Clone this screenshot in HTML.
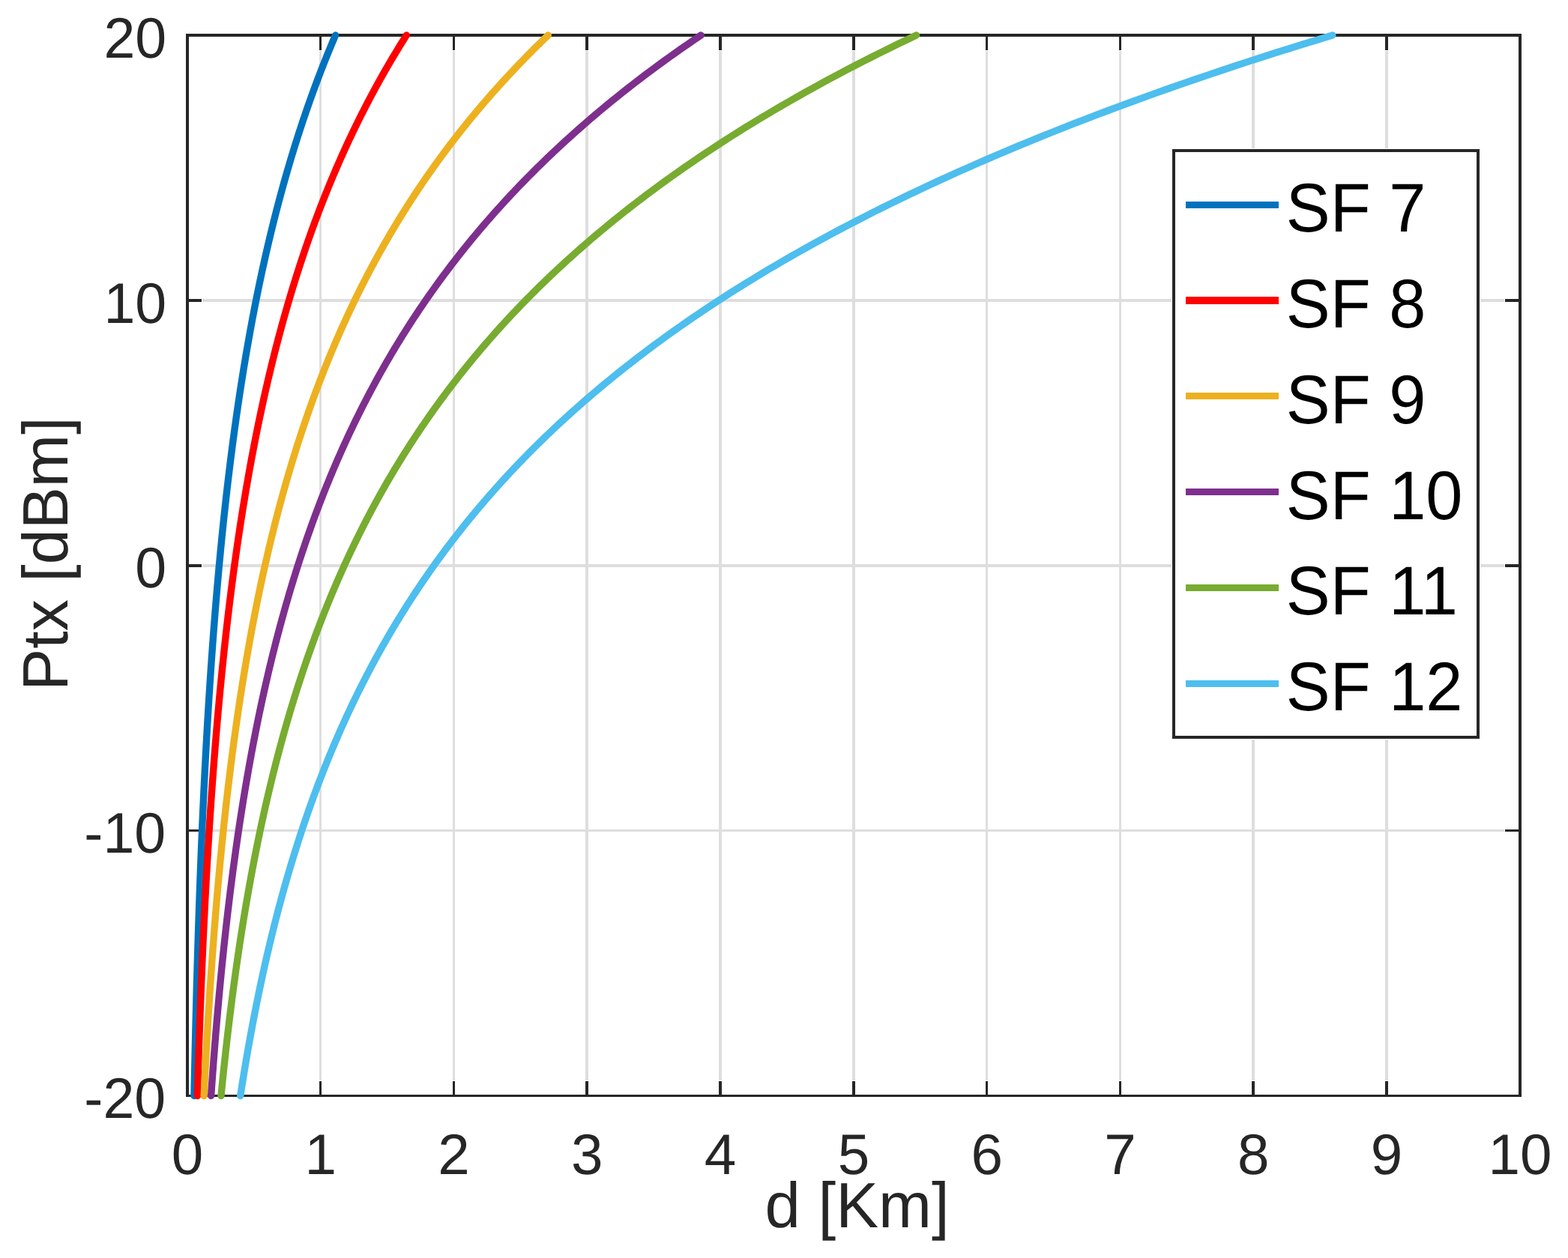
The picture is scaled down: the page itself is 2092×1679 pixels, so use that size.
<!DOCTYPE html>
<html lang="en"><head><meta charset="utf-8"><title>Ptx vs d</title>
<style>html,body{margin:0;padding:0;background:#fff;}body{width:2092px;height:1679px;overflow:hidden;}svg{display:block;}text{text-rendering:geometricPrecision;font-family:"Liberation Sans",sans-serif;}</style></head><body>
<svg width="2092" height="1679" viewBox="0 0 2092 1679">
<rect x="0" y="0" width="2092" height="1679" fill="#ffffff"/>
<g shape-rendering="crispEdges">
<rect x="426" y="68" width="3" height="1374" fill="#dedede"/>
<rect x="604" y="68" width="3" height="1374" fill="#dedede"/>
<rect x="781" y="68" width="4" height="1374" fill="#dedede"/>
<rect x="959" y="68" width="4" height="1374" fill="#dedede"/>
<rect x="1137" y="68" width="4" height="1374" fill="#dedede"/>
<rect x="1315" y="68" width="3" height="1374" fill="#dedede"/>
<rect x="1493" y="68" width="3" height="1374" fill="#dedede"/>
<rect x="1670" y="68" width="4" height="1374" fill="#dedede"/>
<rect x="1848" y="68" width="4" height="1374" fill="#dedede"/>
<rect x="270" y="399" width="1737" height="4" fill="#dedede"/>
<rect x="270" y="753" width="1737" height="4" fill="#dedede"/>
<rect x="270" y="1107" width="1737" height="3" fill="#dedede"/>
</g>
<g shape-rendering="crispEdges">
<rect x="426" y="1443" width="3" height="18" fill="#262626"/>
<rect x="426" y="49" width="3" height="18" fill="#262626"/>
<rect x="604" y="1443" width="3" height="18" fill="#262626"/>
<rect x="604" y="49" width="3" height="18" fill="#262626"/>
<rect x="781" y="1443" width="4" height="18" fill="#262626"/>
<rect x="781" y="49" width="4" height="18" fill="#262626"/>
<rect x="959" y="1443" width="4" height="18" fill="#262626"/>
<rect x="959" y="49" width="4" height="18" fill="#262626"/>
<rect x="1137" y="1443" width="4" height="18" fill="#262626"/>
<rect x="1137" y="49" width="4" height="18" fill="#262626"/>
<rect x="1315" y="1443" width="3" height="18" fill="#262626"/>
<rect x="1315" y="49" width="3" height="18" fill="#262626"/>
<rect x="1493" y="1443" width="3" height="18" fill="#262626"/>
<rect x="1493" y="49" width="3" height="18" fill="#262626"/>
<rect x="1670" y="1443" width="4" height="18" fill="#262626"/>
<rect x="1670" y="49" width="4" height="18" fill="#262626"/>
<rect x="1848" y="1443" width="4" height="18" fill="#262626"/>
<rect x="1848" y="49" width="4" height="18" fill="#262626"/>
<rect x="252" y="399" width="17" height="4" fill="#262626"/>
<rect x="2008" y="399" width="18" height="4" fill="#262626"/>
<rect x="252" y="753" width="17" height="4" fill="#262626"/>
<rect x="2008" y="753" width="18" height="4" fill="#262626"/>
<rect x="252" y="1107" width="17" height="3" fill="#262626"/>
<rect x="2008" y="1107" width="18" height="3" fill="#262626"/>
<rect x="248" y="45" width="1782" height="4" fill="#262626"/>
<rect x="248" y="1461" width="1782" height="3" fill="#262626"/>
<rect x="248" y="45" width="4" height="1419" fill="#262626"/>
<rect x="2026" y="45" width="4" height="1419" fill="#262626"/>
</g>
<path d="M258.98 1462.50L259.10 1456.60L259.22 1450.70L259.34 1444.81L259.46 1438.91L259.59 1433.01L259.71 1427.11L259.84 1421.21L259.97 1415.32L260.10 1409.42L260.23 1403.52L260.37 1397.62L260.50 1391.72L260.64 1385.83L260.78 1379.93L260.92 1374.03L261.07 1368.13L261.21 1362.24L261.36 1356.34L261.51 1350.44L261.66 1344.54L261.81 1338.64L261.97 1332.75L262.12 1326.85L262.28 1320.95L262.44 1315.05L262.60 1309.15L262.77 1303.26L262.94 1297.36L263.10 1291.46L263.28 1285.56L263.45 1279.66L263.63 1273.77L263.80 1267.87L263.98 1261.97L264.17 1256.07L264.35 1250.17L264.54 1244.28L264.73 1238.38L264.92 1232.48L265.12 1226.58L265.31 1220.69L265.51 1214.79L265.71 1208.89L265.92 1202.99L266.13 1197.09L266.34 1191.20L266.55 1185.30L266.77 1179.40L266.98 1173.50L267.21 1167.60L267.43 1161.71L267.66 1155.81L267.89 1149.91L268.12 1144.01L268.35 1138.11L268.59 1132.22L268.84 1126.32L269.08 1120.42L269.33 1114.52L269.58 1108.62L269.83 1102.73L270.09 1096.83L270.35 1090.93L270.62 1085.03L270.89 1079.14L271.16 1073.24L271.43 1067.34L271.71 1061.44L271.99 1055.54L272.28 1049.65L272.57 1043.75L272.86 1037.85L273.16 1031.95L273.46 1026.05L273.76 1020.16L274.07 1014.26L274.39 1008.36L274.70 1002.46L275.02 996.56L275.35 990.67L275.68 984.77L276.01 978.87L276.35 972.97L276.69 967.08L277.03 961.18L277.39 955.28L277.74 949.38L278.10 943.48L278.46 937.59L278.83 931.69L279.21 925.79L279.59 919.89L279.97 913.99L280.36 908.10L280.75 902.20L281.15 896.30L281.55 890.40L281.96 884.50L282.38 878.61L282.80 872.71L283.22 866.81L283.65 860.91L284.09 855.01L284.53 849.12L284.97 843.22L285.43 837.32L285.89 831.42L286.35 825.52L286.82 819.63L287.30 813.73L287.78 807.83L288.27 801.93L288.77 796.04L289.27 790.14L289.77 784.24L290.29 778.34L290.81 772.44L291.34 766.55L291.87 760.65L292.42 754.75L292.96 748.85L293.52 742.95L294.08 737.06L294.65 731.16L295.23 725.26L295.81 719.36L296.41 713.46L297.01 707.57L297.62 701.67L298.23 695.77L298.85 689.87L299.49 683.98L300.13 678.08L300.77 672.18L301.43 666.28L302.09 660.38L302.77 654.49L303.45 648.59L304.14 642.69L304.84 636.79L305.55 630.89L306.27 625.00L306.99 619.10L307.73 613.20L308.48 607.30L309.23 601.40L310.00 595.51L310.77 589.61L311.56 583.71L312.35 577.81L313.16 571.91L313.97 566.02L314.80 560.12L315.63 554.22L316.48 548.32L317.34 542.42L318.21 536.53L319.09 530.63L319.98 524.73L320.89 518.83L321.80 512.94L322.73 507.04L323.67 501.14L324.62 495.24L325.58 489.34L326.56 483.45L327.55 477.55L328.55 471.65L329.56 465.75L330.59 459.85L331.63 453.96L332.68 448.06L333.75 442.16L334.83 436.26L335.92 430.36L337.03 424.47L338.16 418.57L339.29 412.67L340.44 406.77L341.61 400.88L342.79 394.98L343.99 389.08L345.20 383.18L346.43 377.28L347.68 371.39L348.94 365.49L350.21 359.59L351.51 353.69L352.81 347.79L354.14 341.90L355.48 336.00L356.84 330.10L358.22 324.20L359.62 318.30L361.03 312.41L362.46 306.51L363.92 300.61L365.38 294.71L366.87 288.81L368.38 282.92L369.91 277.02L371.45 271.12L373.02 265.22L374.60 259.32L376.21 253.43L377.84 247.53L379.49 241.63L381.16 235.73L382.85 229.84L384.56 223.94L386.30 218.04L388.05 212.14L389.83 206.24L391.64 200.35L393.46 194.45L395.31 188.55L397.19 182.65L399.08 176.75L401.00 170.86L402.95 164.96L404.92 159.06L406.92 153.16L408.94 147.26L410.99 141.37L413.07 135.47L415.17 129.57L417.30 123.67L419.45 117.78L421.64 111.88L423.85 105.98L426.09 100.08L428.36 94.18L430.66 88.29L432.99 82.39L435.35 76.49L437.74 70.59L440.16 64.69L442.61 58.80L445.09 52.90L447.60 47.00" stroke="#0072BD" stroke-width="9.40" fill="none" stroke-linecap="round" stroke-linejoin="round"/>
<path d="M263.38 1462.50L263.55 1456.60L263.73 1450.70L263.91 1444.81L264.09 1438.91L264.27 1433.01L264.46 1427.11L264.65 1421.21L264.84 1415.32L265.03 1409.42L265.23 1403.52L265.43 1397.62L265.63 1391.72L265.83 1385.83L266.04 1379.93L266.25 1374.03L266.46 1368.13L266.67 1362.24L266.89 1356.34L267.11 1350.44L267.33 1344.54L267.56 1338.64L267.79 1332.75L268.02 1326.85L268.25 1320.95L268.49 1315.05L268.73 1309.15L268.98 1303.26L269.22 1297.36L269.47 1291.46L269.73 1285.56L269.98 1279.66L270.24 1273.77L270.51 1267.87L270.77 1261.97L271.04 1256.07L271.32 1250.17L271.59 1244.28L271.87 1238.38L272.16 1232.48L272.45 1226.58L272.74 1220.69L273.03 1214.79L273.33 1208.89L273.63 1202.99L273.94 1197.09L274.25 1191.20L274.57 1185.30L274.89 1179.40L275.21 1173.50L275.54 1167.60L275.87 1161.71L276.20 1155.81L276.54 1149.91L276.89 1144.01L277.24 1138.11L277.59 1132.22L277.95 1126.32L278.31 1120.42L278.68 1114.52L279.05 1108.62L279.42 1102.73L279.81 1096.83L280.19 1090.93L280.58 1085.03L280.98 1079.14L281.38 1073.24L281.79 1067.34L282.20 1061.44L282.62 1055.54L283.04 1049.65L283.47 1043.75L283.90 1037.85L284.34 1031.95L284.78 1026.05L285.23 1020.16L285.69 1014.26L286.15 1008.36L286.62 1002.46L287.10 996.56L287.58 990.67L288.06 984.77L288.55 978.87L289.05 972.97L289.56 967.08L290.07 961.18L290.59 955.28L291.11 949.38L291.65 943.48L292.18 937.59L292.73 931.69L293.28 925.79L293.84 919.89L294.41 913.99L294.98 908.10L295.57 902.20L296.16 896.30L296.75 890.40L297.36 884.50L297.97 878.61L298.59 872.71L299.22 866.81L299.85 860.91L300.50 855.01L301.15 849.12L301.81 843.22L302.48 837.32L303.16 831.42L303.85 825.52L304.54 819.63L305.25 813.73L305.96 807.83L306.68 801.93L307.42 796.04L308.16 790.14L308.91 784.24L309.67 778.34L310.44 772.44L311.22 766.55L312.01 760.65L312.81 754.75L313.62 748.85L314.45 742.95L315.28 737.06L316.12 731.16L316.98 725.26L317.84 719.36L318.72 713.46L319.60 707.57L320.50 701.67L321.41 695.77L322.33 689.87L323.27 683.98L324.21 678.08L325.17 672.18L326.14 666.28L327.12 660.38L328.12 654.49L329.13 648.59L330.15 642.69L331.18 636.79L332.23 630.89L333.29 625.00L334.37 619.10L335.46 613.20L336.56 607.30L337.68 601.40L338.81 595.51L339.95 589.61L341.11 583.71L342.29 577.81L343.48 571.91L344.69 566.02L345.91 560.12L347.15 554.22L348.40 548.32L349.67 542.42L350.95 536.53L352.26 530.63L353.58 524.73L354.91 518.83L356.27 512.94L357.64 507.04L359.02 501.14L360.43 495.24L361.85 489.34L363.30 483.45L364.76 477.55L366.24 471.65L367.74 465.75L369.26 459.85L370.79 453.96L372.35 448.06L373.93 442.16L375.53 436.26L377.15 430.36L378.79 424.47L380.45 418.57L382.13 412.67L383.83 406.77L385.56 400.88L387.31 394.98L389.08 389.08L390.87 383.18L392.68 377.28L394.52 371.39L396.39 365.49L398.27 359.59L400.19 353.69L402.12 347.79L404.08 341.90L406.07 336.00L408.08 330.10L410.12 324.20L412.18 318.30L414.27 312.41L416.39 306.51L418.54 300.61L420.71 294.71L422.91 288.81L425.14 282.92L427.40 277.02L429.68 271.12L432.00 265.22L434.34 259.32L436.72 253.43L439.13 247.53L441.56 241.63L444.03 235.73L446.53 229.84L449.06 223.94L451.63 218.04L454.23 212.14L456.86 206.24L459.53 200.35L462.23 194.45L464.96 188.55L467.73 182.65L470.54 176.75L473.38 170.86L476.26 164.96L479.17 159.06L482.13 153.16L485.12 147.26L488.15 141.37L491.22 135.47L494.32 129.57L497.47 123.67L500.66 117.78L503.89 111.88L507.16 105.98L510.47 100.08L513.83 94.18L517.23 88.29L520.67 82.39L524.16 76.49L527.69 70.59L531.27 64.69L534.89 58.80L538.56 52.90L542.28 47.00" stroke="#FF0000" stroke-width="9.40" fill="none" stroke-linecap="round" stroke-linejoin="round"/>
<path d="M272.15 1462.50L272.44 1456.60L272.73 1450.70L273.02 1444.81L273.32 1438.91L273.62 1433.01L273.93 1427.11L274.24 1421.21L274.56 1415.32L274.88 1409.42L275.20 1403.52L275.53 1397.62L275.86 1391.72L276.19 1385.83L276.53 1379.93L276.88 1374.03L277.22 1368.13L277.58 1362.24L277.94 1356.34L278.30 1350.44L278.66 1344.54L279.04 1338.64L279.41 1332.75L279.79 1326.85L280.18 1320.95L280.57 1315.05L280.97 1309.15L281.37 1303.26L281.77 1297.36L282.19 1291.46L282.60 1285.56L283.03 1279.66L283.45 1273.77L283.89 1267.87L284.33 1261.97L284.77 1256.07L285.22 1250.17L285.68 1244.28L286.14 1238.38L286.61 1232.48L287.08 1226.58L287.56 1220.69L288.05 1214.79L288.54 1208.89L289.04 1202.99L289.54 1197.09L290.05 1191.20L290.57 1185.30L291.10 1179.40L291.63 1173.50L292.17 1167.60L292.71 1161.71L293.26 1155.81L293.82 1149.91L294.39 1144.01L294.97 1138.11L295.55 1132.22L296.14 1126.32L296.73 1120.42L297.34 1114.52L297.95 1108.62L298.57 1102.73L299.20 1096.83L299.83 1090.93L300.48 1085.03L301.13 1079.14L301.79 1073.24L302.46 1067.34L303.14 1061.44L303.82 1055.54L304.52 1049.65L305.22 1043.75L305.94 1037.85L306.66 1031.95L307.39 1026.05L308.13 1020.16L308.88 1014.26L309.64 1008.36L310.42 1002.46L311.20 996.56L311.99 990.67L312.79 984.77L313.60 978.87L314.42 972.97L315.25 967.08L316.09 961.18L316.95 955.28L317.81 949.38L318.69 943.48L319.57 937.59L320.47 931.69L321.38 925.79L322.30 919.89L323.24 913.99L324.18 908.10L325.14 902.20L326.11 896.30L327.09 890.40L328.09 884.50L329.10 878.61L330.12 872.71L331.15 866.81L332.20 860.91L333.26 855.01L334.33 849.12L335.42 843.22L336.52 837.32L337.64 831.42L338.77 825.52L339.92 819.63L341.08 813.73L342.25 807.83L343.44 801.93L344.65 796.04L345.87 790.14L347.11 784.24L348.36 778.34L349.63 772.44L350.91 766.55L352.21 760.65L353.53 754.75L354.87 748.85L356.22 742.95L357.59 737.06L358.98 731.16L360.38 725.26L361.81 719.36L363.25 713.46L364.71 707.57L366.19 701.67L367.69 695.77L369.21 689.87L370.74 683.98L372.30 678.08L373.88 672.18L375.47 666.28L377.09 660.38L378.73 654.49L380.39 648.59L382.07 642.69L383.78 636.79L385.50 630.89L387.25 625.00L389.02 619.10L390.81 613.20L392.62 607.30L394.46 601.40L396.33 595.51L398.21 589.61L400.12 583.71L402.06 577.81L404.02 571.91L406.00 566.02L408.01 560.12L410.05 554.22L412.11 548.32L414.20 542.42L416.32 536.53L418.46 530.63L420.64 524.73L422.84 518.83L425.06 512.94L427.32 507.04L429.61 501.14L431.92 495.24L434.26 489.34L436.64 483.45L439.05 477.55L441.48 471.65L443.95 465.75L446.45 459.85L448.98 453.96L451.54 448.06L454.14 442.16L456.77 436.26L459.44 430.36L462.14 424.47L464.87 418.57L467.64 412.67L470.44 406.77L473.28 400.88L476.16 394.98L479.08 389.08L482.03 383.18L485.02 377.28L488.05 371.39L491.11 365.49L494.22 359.59L497.37 353.69L500.55 347.79L503.78 341.90L507.05 336.00L510.36 330.10L513.72 324.20L517.12 318.30L520.56 312.41L524.04 306.51L527.57 300.61L531.15 294.71L534.77 288.81L538.44 282.92L542.16 277.02L545.92 271.12L549.73 265.22L553.59 259.32L557.51 253.43L561.47 247.53L565.48 241.63L569.54 235.73L573.66 229.84L577.83 223.94L582.05 218.04L586.33 212.14L590.66 206.24L595.05 200.35L599.50 194.45L604.00 188.55L608.56 182.65L613.18 176.75L617.86 170.86L622.59 164.96L627.39 159.06L632.26 153.16L637.18 147.26L642.17 141.37L647.22 135.47L652.33 129.57L657.52 123.67L662.77 117.78L668.08 111.88L673.47 105.98L678.92 100.08L684.45 94.18L690.04 88.29L695.71 82.39L701.45 76.49L707.27 70.59L713.15 64.69L719.12 58.80L725.16 52.90L731.28 47.00" stroke="#EDB120" stroke-width="9.40" fill="none" stroke-linecap="round" stroke-linejoin="round"/>
<path d="M281.61 1462.50L282.02 1456.60L282.44 1450.70L282.86 1444.81L283.28 1438.91L283.72 1433.01L284.15 1427.11L284.59 1421.21L285.04 1415.32L285.50 1409.42L285.96 1403.52L286.42 1397.62L286.89 1391.72L287.37 1385.83L287.85 1379.93L288.34 1374.03L288.84 1368.13L289.34 1362.24L289.85 1356.34L290.37 1350.44L290.89 1344.54L291.42 1338.64L291.95 1332.75L292.50 1326.85L293.05 1320.95L293.60 1315.05L294.17 1309.15L294.74 1303.26L295.32 1297.36L295.90 1291.46L296.50 1285.56L297.10 1279.66L297.71 1273.77L298.32 1267.87L298.95 1261.97L299.58 1256.07L300.22 1250.17L300.87 1244.28L301.53 1238.38L302.19 1232.48L302.87 1226.58L303.55 1220.69L304.24 1214.79L304.95 1208.89L305.66 1202.99L306.37 1197.09L307.10 1191.20L307.84 1185.30L308.59 1179.40L309.34 1173.50L310.11 1167.60L310.89 1161.71L311.67 1155.81L312.47 1149.91L313.28 1144.01L314.10 1138.11L314.92 1132.22L315.76 1126.32L316.61 1120.42L317.47 1114.52L318.34 1108.62L319.22 1102.73L320.12 1096.83L321.02 1090.93L321.94 1085.03L322.87 1079.14L323.81 1073.24L324.76 1067.34L325.73 1061.44L326.71 1055.54L327.70 1049.65L328.70 1043.75L329.71 1037.85L330.74 1031.95L331.78 1026.05L332.84 1020.16L333.91 1014.26L334.99 1008.36L336.09 1002.46L337.20 996.56L338.33 990.67L339.46 984.77L340.62 978.87L341.79 972.97L342.97 967.08L344.17 961.18L345.39 955.28L346.62 949.38L347.86 943.48L349.13 937.59L350.41 931.69L351.70 925.79L353.01 919.89L354.34 913.99L355.69 908.10L357.05 902.20L358.43 896.30L359.83 890.40L361.25 884.50L362.68 878.61L364.13 872.71L365.61 866.81L367.10 860.91L368.61 855.01L370.14 849.12L371.69 843.22L373.26 837.32L374.85 831.42L376.46 825.52L378.09 819.63L379.74 813.73L381.41 807.83L383.10 801.93L384.82 796.04L386.56 790.14L388.32 784.24L390.10 778.34L391.91 772.44L393.74 766.55L395.59 760.65L397.47 754.75L399.37 748.85L401.30 742.95L403.25 737.06L405.22 731.16L407.22 725.26L409.25 719.36L411.30 713.46L413.38 707.57L415.49 701.67L417.62 695.77L419.78 689.87L421.97 683.98L424.19 678.08L426.43 672.18L428.71 666.28L431.01 660.38L433.34 654.49L435.70 648.59L438.10 642.69L440.52 636.79L442.98 630.89L445.46 625.00L447.98 619.10L450.53 613.20L453.12 607.30L455.74 601.40L458.39 595.51L461.07 589.61L463.79 583.71L466.55 577.81L469.34 571.91L472.17 566.02L475.03 560.12L477.93 554.22L480.86 548.32L483.84 542.42L486.85 536.53L489.90 530.63L493.00 524.73L496.13 518.83L499.30 512.94L502.51 507.04L505.76 501.14L509.06 495.24L512.40 489.34L515.78 483.45L519.20 477.55L522.67 471.65L526.18 465.75L529.74 459.85L533.35 453.96L537.00 448.06L540.69 442.16L544.44 436.26L548.23 430.36L552.07 424.47L555.97 418.57L559.91 412.67L563.90 406.77L567.94 400.88L572.04 394.98L576.19 389.08L580.39 383.18L584.65 377.28L588.96 371.39L593.32 365.49L597.75 359.59L602.23 353.69L606.76 347.79L611.36 341.90L616.01 336.00L620.73 330.10L625.50 324.20L630.34 318.30L635.24 312.41L640.20 306.51L645.23 300.61L650.32 294.71L655.48 288.81L660.70 282.92L665.99 277.02L671.35 271.12L676.77 265.22L682.27 259.32L687.84 253.43L693.48 247.53L699.19 241.63L704.97 235.73L710.84 229.84L716.77 223.94L722.78 218.04L728.87 212.14L735.04 206.24L741.29 200.35L747.61 194.45L754.02 188.55L760.51 182.65L767.09 176.75L773.75 170.86L780.50 164.96L787.33 159.06L794.25 153.16L801.26 147.26L808.36 141.37L815.55 135.47L822.83 129.57L830.21 123.67L837.68 117.78L845.25 111.88L852.92 105.98L860.68 100.08L868.54 94.18L876.51 88.29L884.58 82.39L892.75 76.49L901.03 70.59L909.41 64.69L917.91 58.80L926.51 52.90L935.22 47.00" stroke="#7E2F8E" stroke-width="9.40" fill="none" stroke-linecap="round" stroke-linejoin="round"/>
<path d="M294.95 1462.50L295.53 1456.60L296.12 1450.70L296.72 1444.81L297.32 1438.91L297.93 1433.01L298.55 1427.11L299.18 1421.21L299.82 1415.32L300.46 1409.42L301.11 1403.52L301.77 1397.62L302.44 1391.72L303.12 1385.83L303.81 1379.93L304.50 1374.03L305.21 1368.13L305.92 1362.24L306.64 1356.34L307.37 1350.44L308.11 1344.54L308.87 1338.64L309.63 1332.75L310.40 1326.85L311.18 1320.95L311.97 1315.05L312.77 1309.15L313.58 1303.26L314.40 1297.36L315.23 1291.46L316.07 1285.56L316.93 1279.66L317.79 1273.77L318.66 1267.87L319.55 1261.97L320.45 1256.07L321.36 1250.17L322.28 1244.28L323.21 1238.38L324.16 1232.48L325.12 1226.58L326.09 1220.69L327.07 1214.79L328.06 1208.89L329.07 1202.99L330.09 1197.09L331.12 1191.20L332.17 1185.30L333.23 1179.40L334.31 1173.50L335.39 1167.60L336.50 1161.71L337.61 1155.81L338.74 1149.91L339.89 1144.01L341.05 1138.11L342.22 1132.22L343.41 1126.32L344.62 1120.42L345.84 1114.52L347.07 1108.62L348.33 1102.73L349.60 1096.83L350.88 1090.93L352.18 1085.03L353.50 1079.14L354.83 1073.24L356.19 1067.34L357.56 1061.44L358.94 1055.54L360.35 1049.65L361.77 1043.75L363.21 1037.85L364.67 1031.95L366.15 1026.05L367.65 1020.16L369.17 1014.26L370.70 1008.36L372.26 1002.46L373.84 996.56L375.43 990.67L377.05 984.77L378.69 978.87L380.35 972.97L382.03 967.08L383.73 961.18L385.46 955.28L387.20 949.38L388.97 943.48L390.76 937.59L392.58 931.69L394.42 925.79L396.28 919.89L398.17 913.99L400.08 908.10L402.01 902.20L403.97 896.30L405.95 890.40L407.96 884.50L410.00 878.61L412.06 872.71L414.15 866.81L416.27 860.91L418.41 855.01L420.58 849.12L422.78 843.22L425.01 837.32L427.26 831.42L429.55 825.52L431.86 819.63L434.21 813.73L436.58 807.83L438.99 801.93L441.42 796.04L443.89 790.14L446.39 784.24L448.92 778.34L451.48 772.44L454.08 766.55L456.71 760.65L459.37 754.75L462.07 748.85L464.80 742.95L467.57 737.06L470.37 731.16L473.21 725.26L476.09 719.36L479.00 713.46L481.95 707.57L484.94 701.67L487.97 695.77L491.04 689.87L494.14 683.98L497.29 678.08L500.47 672.18L503.70 666.28L506.97 660.38L510.28 654.49L513.63 648.59L517.03 642.69L520.47 636.79L523.96 630.89L527.49 625.00L531.06 619.10L534.68 613.20L538.35 607.30L542.06 601.40L545.83 595.51L549.64 589.61L553.50 583.71L557.41 577.81L561.37 571.91L565.38 566.02L569.44 560.12L573.56 554.22L577.73 548.32L581.95 542.42L586.22 536.53L590.56 530.63L594.94 524.73L599.39 518.83L603.89 512.94L608.45 507.04L613.06 501.14L617.74 495.24L622.48 489.34L627.27 483.45L632.13 477.55L637.06 471.65L642.04 465.75L647.09 459.85L652.21 453.96L657.39 448.06L662.63 442.16L667.95 436.26L673.33 430.36L678.79 424.47L684.31 418.57L689.90 412.67L695.57 406.77L701.31 400.88L707.12 394.98L713.01 389.08L718.97 383.18L725.01 377.28L731.13 371.39L737.33 365.49L743.60 359.59L749.96 353.69L756.40 347.79L762.92 341.90L769.53 336.00L776.22 330.10L783.00 324.20L789.86 318.30L796.81 312.41L803.86 306.51L810.99 300.61L818.21 294.71L825.53 288.81L832.94 282.92L840.45 277.02L848.06 271.12L855.76 265.22L863.56 259.32L871.46 253.43L879.47 247.53L887.57 241.63L895.78 235.73L904.10 229.84L912.52 223.94L921.05 218.04L929.70 212.14L938.45 206.24L947.32 200.35L956.30 194.45L965.39 188.55L974.60 182.65L983.94 176.75L993.39 170.86L1002.96 164.96L1012.66 159.06L1022.48 153.16L1032.43 147.26L1042.50 141.37L1052.71 135.47L1063.04 129.57L1073.51 123.67L1084.12 117.78L1094.86 111.88L1105.74 105.98L1116.76 100.08L1127.92 94.18L1139.23 88.29L1150.68 82.39L1162.27 76.49L1174.02 70.59L1185.92 64.69L1197.97 58.80L1210.18 52.90L1222.54 47.00" stroke="#77AC30" stroke-width="9.40" fill="none" stroke-linecap="round" stroke-linejoin="round"/>
<path d="M320.72 1462.50L321.64 1456.60L322.56 1450.70L323.50 1444.81L324.45 1438.91L325.41 1433.01L326.38 1427.11L327.37 1421.21L328.37 1415.32L329.38 1409.42L330.40 1403.52L331.44 1397.62L332.49 1391.72L333.56 1385.83L334.63 1379.93L335.73 1374.03L336.83 1368.13L337.95 1362.24L339.09 1356.34L340.24 1350.44L341.40 1344.54L342.58 1338.64L343.78 1332.75L344.99 1326.85L346.21 1320.95L347.45 1315.05L348.71 1309.15L349.98 1303.26L351.27 1297.36L352.58 1291.46L353.90 1285.56L355.24 1279.66L356.60 1273.77L357.98 1267.87L359.37 1261.97L360.78 1256.07L362.21 1250.17L363.65 1244.28L365.12 1238.38L366.60 1232.48L368.11 1226.58L369.63 1220.69L371.17 1214.79L372.74 1208.89L374.32 1202.99L375.92 1197.09L377.55 1191.20L379.19 1185.30L380.86 1179.40L382.54 1173.50L384.25 1167.60L385.98 1161.71L387.74 1155.81L389.51 1149.91L391.31 1144.01L393.13 1138.11L394.98 1132.22L396.85 1126.32L398.74 1120.42L400.66 1114.52L402.60 1108.62L404.57 1102.73L406.56 1096.83L408.58 1090.93L410.62 1085.03L412.69 1079.14L414.79 1073.24L416.92 1067.34L419.07 1061.44L421.25 1055.54L423.45 1049.65L425.69 1043.75L427.95 1037.85L430.25 1031.95L432.57 1026.05L434.92 1020.16L437.31 1014.26L439.72 1008.36L442.17 1002.46L444.64 996.56L447.15 990.67L449.69 984.77L452.26 978.87L454.87 972.97L457.51 967.08L460.19 961.18L462.89 955.28L465.64 949.38L468.42 943.48L471.23 937.59L474.08 931.69L476.97 925.79L479.89 919.89L482.86 913.99L485.86 908.10L488.90 902.20L491.97 896.30L495.09 890.40L498.25 884.50L501.45 878.61L504.69 872.71L507.97 866.81L511.29 860.91L514.66 855.01L518.07 849.12L521.52 843.22L525.02 837.32L528.56 831.42L532.15 825.52L535.79 819.63L539.47 813.73L543.20 807.83L546.98 801.93L550.80 796.04L554.68 790.14L558.60 784.24L562.58 778.34L566.61 772.44L570.68 766.55L574.82 760.65L579.00 754.75L583.24 748.85L587.53 742.95L591.88 737.06L596.28 731.16L600.74 725.26L605.26 719.36L609.84 713.46L614.47 707.57L619.17 701.67L623.92 695.77L628.74 689.87L633.62 683.98L638.56 678.08L643.57 672.18L648.64 666.28L653.77 660.38L658.97 654.49L664.24 648.59L669.57 642.69L674.98 636.79L680.45 630.89L686.00 625.00L691.61 619.10L697.30 613.20L703.06 607.30L708.90 601.40L714.81 595.51L720.79 589.61L726.86 583.71L733.00 577.81L739.22 571.91L745.52 566.02L751.90 560.12L758.37 554.22L764.92 548.32L771.55 542.42L778.26 536.53L785.07 530.63L791.96 524.73L798.94 518.83L806.01 512.94L813.17 507.04L820.42 501.14L827.77 495.24L835.21 489.34L842.75 483.45L850.38 477.55L858.11 471.65L865.94 465.75L873.88 459.85L881.91 453.96L890.05 448.06L898.29 442.16L906.64 436.26L915.10 430.36L923.66 424.47L932.34 418.57L941.13 412.67L950.03 406.77L959.04 400.88L968.17 394.98L977.42 389.08L986.79 383.18L996.28 377.28L1005.89 371.39L1015.62 365.49L1025.48 359.59L1035.47 353.69L1045.58 347.79L1055.83 341.90L1066.20 336.00L1076.71 330.10L1087.36 324.20L1098.14 318.30L1109.06 312.41L1120.13 306.51L1131.33 300.61L1142.68 294.71L1154.18 288.81L1165.82 282.92L1177.61 277.02L1189.56 271.12L1201.66 265.22L1213.91 259.32L1226.32 253.43L1238.90 247.53L1251.63 241.63L1264.53 235.73L1277.59 229.84L1290.82 223.94L1304.23 218.04L1317.80 212.14L1331.55 206.24L1345.48 200.35L1359.58 194.45L1373.87 188.55L1388.34 182.65L1403.00 176.75L1417.85 170.86L1432.89 164.96L1448.12 159.06L1463.54 153.16L1479.17 147.26L1495.00 141.37L1511.03 135.47L1527.27 129.57L1543.71 123.67L1560.37 117.78L1577.24 111.88L1594.33 105.98L1611.64 100.08L1629.18 94.18L1646.93 88.29L1664.92 82.39L1683.14 76.49L1701.59 70.59L1720.28 64.69L1739.22 58.80L1758.39 52.90L1777.81 47.00" stroke="#4DBEEE" stroke-width="9.40" fill="none" stroke-linecap="round" stroke-linejoin="round"/>
<text transform="matrix(1 0 0 1 249.90 1567.30)" font-size="76.4" fill="#262626" text-anchor="middle">0</text>
<text transform="matrix(1 0 0 1 427.70 1567.30)" font-size="76.4" fill="#262626" text-anchor="middle">1</text>
<text transform="matrix(1 0 0 1 605.50 1567.30)" font-size="76.4" fill="#262626" text-anchor="middle">2</text>
<text transform="matrix(1 0 0 1 783.30 1567.30)" font-size="76.4" fill="#262626" text-anchor="middle">3</text>
<text transform="matrix(1 0 0 1 961.10 1567.30)" font-size="76.4" fill="#262626" text-anchor="middle">4</text>
<text transform="matrix(1 0 0 1 1138.90 1567.30)" font-size="76.4" fill="#262626" text-anchor="middle">5</text>
<text transform="matrix(1 0 0 1 1316.70 1567.30)" font-size="76.4" fill="#262626" text-anchor="middle">6</text>
<text transform="matrix(1 0 0 1 1494.50 1567.30)" font-size="76.4" fill="#262626" text-anchor="middle">7</text>
<text transform="matrix(1 0 0 1 1672.30 1567.30)" font-size="76.4" fill="#262626" text-anchor="middle">8</text>
<text transform="matrix(1 0 0 1 1850.10 1567.30)" font-size="76.4" fill="#262626" text-anchor="middle">9</text>
<text transform="matrix(1 0 0 1 2027.90 1567.30)" font-size="76.4" fill="#262626" text-anchor="middle">10</text>
<text transform="matrix(0.985 0 0 1 222.10 77.20)" font-size="76.4" fill="#262626" text-anchor="end">20</text>
<text transform="matrix(0.985 0 0 1 222.10 431.40)" font-size="76.4" fill="#262626" text-anchor="end">10</text>
<text transform="matrix(0.985 0 0 1 222.10 784.30)" font-size="76.4" fill="#262626" text-anchor="end">0</text>
<text transform="matrix(0.985 0 0 1 221.10 1138.20)" font-size="76.4" fill="#262626" text-anchor="end">-10</text>
<text transform="matrix(0.985 0 0 1 221.10 1492.40)" font-size="76.4" fill="#262626" text-anchor="end">-20</text>
<text transform="matrix(0.996 0 0 1 1143.60 1638.20)" font-size="85.5" fill="#262626" text-anchor="middle">d [Km]</text>
<text transform="matrix(0 -0.986 1 0 90.00 739.20)" font-size="85.5" fill="#262626" text-anchor="middle">Ptx [dBm]</text>
<rect x="1563" y="198" width="412" height="789" fill="#ffffff" shape-rendering="crispEdges"/>
<rect x="1566" y="201" width="406" height="783" fill="#ffffff" stroke="#262626" stroke-width="4" shape-rendering="crispEdges"/>
<rect x="1582" y="269" width="124" height="9" fill="#0072BD" shape-rendering="crispEdges"/>
<text transform="matrix(0.96 0 0 1 1715.80 309.05)" font-size="92" fill="#000000" text-anchor="start">SF 7</text>
<rect x="1582" y="396" width="124" height="10" fill="#FF0000" shape-rendering="crispEdges"/>
<text transform="matrix(0.96 0 0 1 1715.80 436.88)" font-size="92" fill="#000000" text-anchor="start">SF 8</text>
<rect x="1582" y="524" width="124" height="9" fill="#EDB120" shape-rendering="crispEdges"/>
<text transform="matrix(0.96 0 0 1 1715.80 564.71)" font-size="92" fill="#000000" text-anchor="start">SF 9</text>
<rect x="1582" y="652" width="124" height="9" fill="#7E2F8E" shape-rendering="crispEdges"/>
<text transform="matrix(0.96 0 0 1 1715.80 692.54)" font-size="92" fill="#000000" text-anchor="start">SF 10</text>
<rect x="1582" y="780" width="124" height="9" fill="#77AC30" shape-rendering="crispEdges"/>
<text transform="matrix(0.96 0 0 1 1715.80 820.37)" font-size="92" fill="#000000" text-anchor="start">SF 11</text>
<rect x="1582" y="908" width="124" height="9" fill="#4DBEEE" shape-rendering="crispEdges"/>
<text transform="matrix(0.96 0 0 1 1715.80 948.20)" font-size="92" fill="#000000" text-anchor="start">SF 12</text>
</svg></body></html>
